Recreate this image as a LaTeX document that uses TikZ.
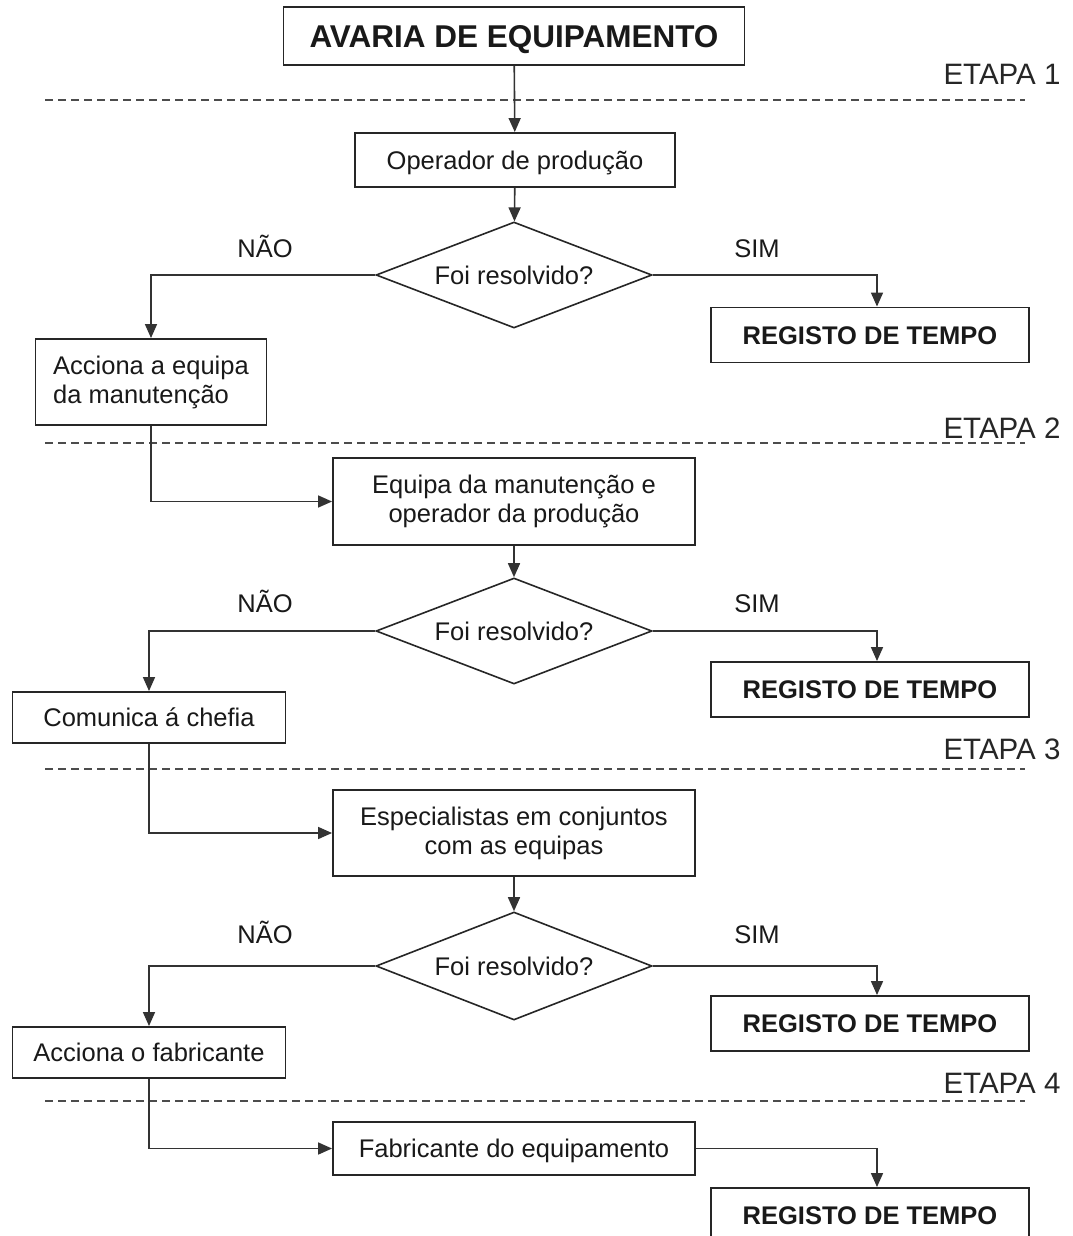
\documentclass[tikz,border=0pt]{standalone}
\usepackage{fontspec}
\setmainfont{Liberation Sans}
\usetikzlibrary{shapes.geometric,arrows.meta}

\begin{document}
\begin{tikzpicture}[x=1pt,y=-1pt,
  font=\fontsize{25.5}{29}\selectfont,
  box/.style={draw=black!85, line width=1.9pt, inner sep=0pt, text=black!90},
  oneline/.style={text height=#1, text depth=0pt},
  oneline/.default=18.5pt,
  decision/.style={draw=black!85, line width=1.6pt, shape=diamond, aspect=2.6, inner sep=0pt,
    minimum width=276pt, text=black!90, oneline},
  title/.style={font=\bfseries\fontsize{31.5}{34}\selectfont, oneline=22.6pt},
  record/.style={box, oneline, minimum width=318pt, minimum height=55pt,
    font=\bfseries\fontsize{25.5}{29}\selectfont},
  flow/.style={draw=black!80, line width=1.6pt, -{Triangle[length=14pt,width=12pt]}},
  stage/.style={draw=black!70, line width=1.5pt, dash pattern=on 8pt off 5pt},
  stagelabel/.style={anchor=base east, font=\fontsize{29.5}{34}\selectfont, text=black!85},
  answer/.style={anchor=base, text=black!90}
]
\clip (0,0) rectangle (1072,1236);
\fill[white] (0,0) rectangle (1072,1236);

% stage separators
\draw[stage] (45,100) -- (1025,100);
\draw[stage] (45,443) -- (1025,443);
\draw[stage] (45,769) -- (1025,769);
\draw[stage] (45,1101) -- (1025,1101);

\node[stagelabel] (s1) at (1064,85) {ETAPA 1};
\node[stagelabel] (s2) at (1064,438) {ETAPA 2};
\node[stagelabel] (s3) at (1064,759) {ETAPA 3};
\node[stagelabel] (s4) at (1064,1093) {ETAPA 4};

% stage 1
\node[box, title, minimum width=461pt, minimum height=58pt] (top) at (514,36) {AVARIA DE EQUIPAMENTO};
\node[box, oneline, minimum width=320pt, minimum height=54pt] (op) at (515,160) {Operador de produção};
\node[decision, minimum height=106pt] (d1) at (514,275) {Foi resolvido?};
\node[record] (r1) at (870,335) {REGISTO DE TEMPO};
\node[box, align=left, minimum width=231pt, minimum height=86pt] (acc) at (151,382) {Acciona a equipa\\da manutenção};
\node[answer] (n1) at (265,257) {NÃO};
\node[answer] (y1) at (757,257) {SIM};

% stage 2
\node[box, align=center, minimum width=362pt, minimum height=87pt] (eq) at (514,501.5) {Equipa da manutenção e\\operador da produção};
\node[decision, minimum height=106pt] (d2) at (514,631) {Foi resolvido?};
\node[record] (r2) at (870,689.5) {REGISTO DE TEMPO};
\node[box, oneline, minimum width=273pt, minimum height=51pt] (com) at (149,717.5) {Comunica á chefia};
\node[answer] (n2) at (265,612) {NÃO};
\node[answer] (y2) at (757,612) {SIM};

% stage 3
\node[box, align=center, minimum width=362pt, minimum height=86pt] (esp) at (514,833) {Especialistas em conjuntos\\com as equipas};
\node[decision, minimum height=108pt] (d3) at (514,966) {Foi resolvido?};
\node[record] (r3) at (870,1023.5) {REGISTO DE TEMPO};
\node[box, oneline, minimum width=273pt, minimum height=51pt] (fa) at (149,1052.5) {Acciona o fabricante};
\node[answer] (n3) at (265,943) {NÃO};
\node[answer] (y3) at (757,943) {SIM};

% stage 4
\node[box, oneline, minimum width=362pt, minimum height=53pt] (fab) at (514,1148.5) {Fabricante do equipamento};
\node[record] (r4) at (870,1215.5) {REGISTO DE TEMPO};

% connectors
\draw[flow] (top) -- (op);
\draw[flow] (op) -- (d1);
\draw[flow] (d1.west) -| (acc.north);
\draw[flow] (d1.east) -| ([xshift=7pt]r1.north);
\draw[flow] (acc.south) |- (eq.west);
\draw[flow] (eq) -- (d2);
\draw[flow] (d2.west) -| (com.north);
\draw[flow] (d2.east) -| ([xshift=7pt]r2.north);
\draw[flow] (com.south) |- (esp.west);
\draw[flow] (esp) -- (d3);
\draw[flow] (d3.west) -| (fa.north);
\draw[flow] (d3.east) -| ([xshift=7pt]r3.north);
\draw[flow] (fa.south) |- (fab.west);
\draw[flow] (fab.east) -| ([xshift=7pt]r4.north);
\end{tikzpicture}
\end{document}
